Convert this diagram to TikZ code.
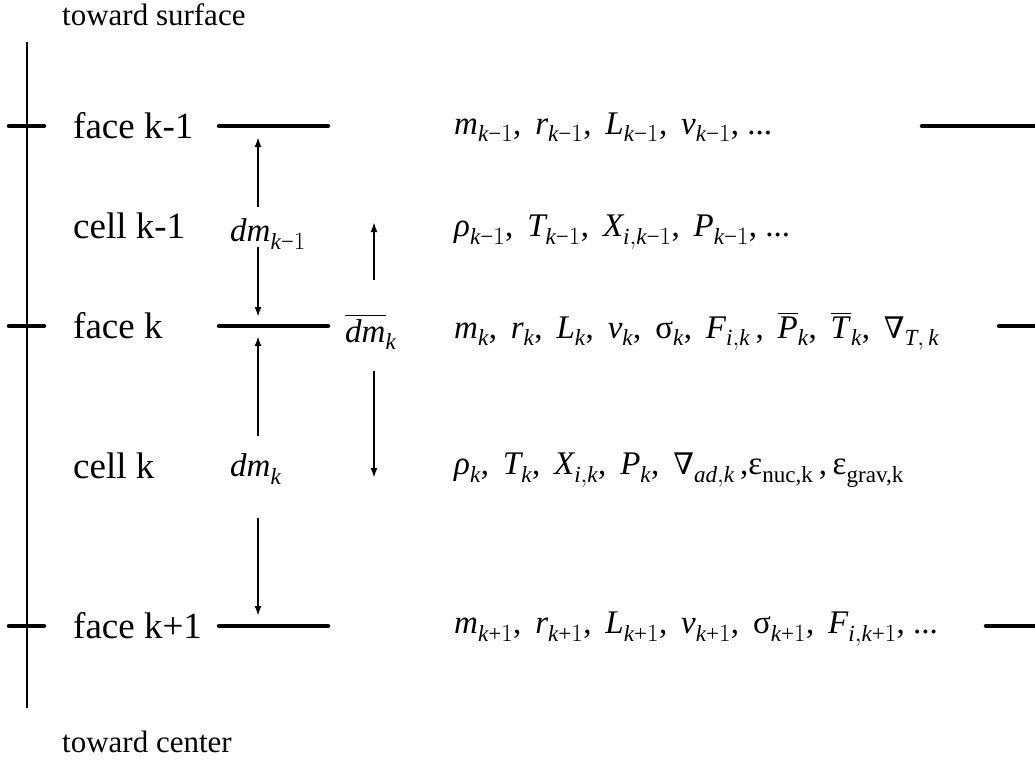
\documentclass[tikz,border=0pt]{standalone}
\usepackage{amsmath}
\usepackage{fontspec}
\setmainfont{Liberation Serif}
\newfontfamily\nablafont{DejaVu Serif}
\usetikzlibrary{arrows.meta}
\newcommand\iv[1]{\textit{#1}}
\newcommand\mn{\text{−}}
\newcommand\cs{,\hspace{0.42em}}
\newcommand\nb{\text{\scalebox{0.9}{\nablafont ∇}}}
\begin{document}
\begin{tikzpicture}[x=1pt,y=-1pt,
  lab/.style={anchor=west,inner sep=0pt,font=\fontsize{37}{40}\selectfont},
  dir/.style={anchor=west,inner sep=0pt,font=\fontsize{31}{34}\selectfont},
  vars/.style={anchor=west,inner sep=0pt,font=\fontsize{33}{36}\selectfont},
  dml/.style={inner sep=0pt,font=\fontsize{33}{36}\selectfont},
  face/.style={line width=4.5pt,line cap=round},
  axis/.style={line width=1.8pt},
  arr/.style={line width=2.2pt,-{Latex[length=10pt,width=7pt]}}]
\useasboundingbox (0,0) rectangle (1035,765);
% axis
\coordinate (top) at (27,42);
\coordinate (bot) at (27,708);
\draw[axis] (top) -- (bot);
\node[dir] (surf) at (62,15) {toward surface};
\node[dir] (cent) at (62,742) {toward center};
% ticks and face lines
\foreach \y in {126,326,626}{
  \draw[face] (9,\y) -- (44,\y);
  \draw[face] (219,\y) -- (328,\y);
}
\draw[face] (922,126) -- (1040,126);
\draw[face] (999,326) -- (1040,326);
\draw[face] (986,626) -- (1040,626);
% labels
\node[lab] (f1) at (73,126) {face k-1};
\node[lab] (c1) at (73,226) {cell k-1};
\node[lab] (f2) at (73,326) {face k};
\node[lab] (c2) at (73,466) {cell k};
\node[lab] (f3) at (73,626) {face k+1};
% dm labels
\node[dml,anchor=west] (d1) at (230,234) {$\iv{dm}_{\iv{k}\mn1}$};
\node[dml,anchor=west] (d2) at (230,469) {$\iv{dm}_{\iv{k}}$};
\node[dml,anchor=west] (d3) at (345,332) {$\overline{\hbox{\iv{dm}}}_{\iv{k}}$};
% arrows
\draw[arr] (258,207) -- (258,137);
\draw[arr] (258,247) -- (258,317);
\draw[arr] (258,436) -- (258,336);
\draw[arr] (258,518) -- (258,616);
\draw[arr] (374,280) -- (374,222);
\draw[arr] (374,371) -- (374,478);
% variable rows
\node[vars] (r1) at (454,127) {$\iv{m}_{\iv{k}\mn1}$\cs$\iv{r}_{\iv{k}\mn1}$\cs$\iv{L}_{\iv{k}\mn1}$\cs$\iv{v}_{\iv{k}\mn1}$, ...};
\node[vars] (r2) at (454,232) {$\iv{ρ}_{\iv{k}\mn1}$\cs$\iv{T}_{\iv{k}\mn1}$\cs$\iv{X}_{\iv{i},\iv{k}\mn1}$\cs$\iv{P}_{\iv{k}\mn1}$, ...};
\node[vars] (r3) at (454,331) {$\iv{m}_{\iv{k}}$\cs$\iv{r}_{\iv{k}}$\cs$\iv{L}_{\iv{k}}$\cs$\iv{v}_{\iv{k}}$\cs$\text{σ}_{\iv{k}}$\cs$\iv{F}_{\iv{i},\iv{k}}$\,\cs$\overline{\hbox{\iv{P}}}_{\iv{k}}$\cs$\overline{\hbox{\iv{T}}}_{\iv{k}}$\cs$\nb_{\iv{T},\,\iv{k}}$};
\node[vars] (r4) at (454,470) {$\iv{ρ}_{\iv{k}}$\cs$\iv{T}_{\iv{k}}$\cs$\iv{X}_{\iv{i},\iv{k}}$\cs$\iv{P}_{\iv{k}}$\cs$\nb_{\iv{ad},\iv{k}}$\,,$\text{ε}_{\text{nuc,k}}$\,,\,$\text{ε}_{\text{grav,k}}$};
\node[vars] (r5) at (454,629) {$\iv{m}_{\iv{k}\text{+}1}$\cs$\iv{r}_{\iv{k}\text{+}1}$\cs$\iv{L}_{\iv{k}\text{+}1}$\cs$\iv{v}_{\iv{k}\text{+}1}$\cs$\text{σ}_{\iv{k}\text{+}1}$\cs$\iv{F}_{\iv{i},\iv{k}\text{+}1}$, ...};
\end{tikzpicture}
\end{document}
